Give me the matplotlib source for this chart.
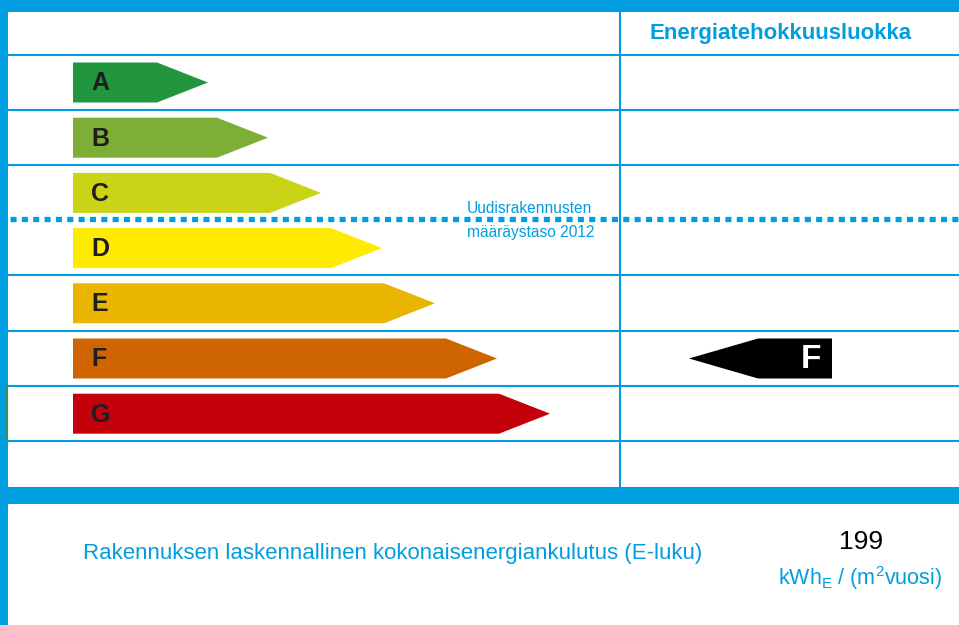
import matplotlib
matplotlib.use("Agg")
import matplotlib.pyplot as plt
from matplotlib.patches import Polygon, Rectangle

plt.rcParams['font.family'] = ['Liberation Sans', 'DejaVu Sans']

# energy classes and arrow lengths (tip position on the 959 px wide sheet)
classes = ['A', 'B', 'C', 'D', 'E', 'F', 'G']
class_colors = ['#22963f', '#7daf36', '#cbd317', '#feeb00', '#e9b500', '#ce6500', '#c4000b']
arrow_tips = [208, 268, 321, 382, 435, 497, 550]

rating = 'F'
e_value = 199
limit_after = 'C'   # Uudisrakennusten määräystaso 2012 line sits under this class

header = 'Energiatehokkuusluokka'
limit_text = ['Uudisrakennusten', 'määräystaso 2012']
bottom_label = 'Rakennuksen laskennallinen kokonaisenergiankulutus (E-luku)'
unit_label = r'kWh$_\mathregular{E}$ / (m$^\mathregular{2}$vuosi)'

blue = '#009ee0'
W, H = 959, 625

fig = plt.figure(figsize=(W / 100, H / 100), dpi=100)
ax = fig.add_axes([0, 0, 1, 1])
ax.set_xlim(0, W)
ax.set_ylim(H, 0)
ax.axis('off')

# frame
ax.add_patch(Rectangle((0, 0), W, 12, color=blue, lw=0))
ax.add_patch(Rectangle((0, 0), 8, H, color=blue, lw=0))
ax.add_patch(Rectangle((0, 487), W, 17, color=blue, lw=0))

# table grid
row_top = 54.5
row_h = 55.2
n_rows = len(classes) + 1
limit_idx = classes.index(limit_after) + 1
for i in range(n_rows):
    y = row_top + i * row_h
    if i == limit_idx:
        continue
    ax.plot([8, W], [y, y], color=blue, lw=1.5, solid_capstyle='butt')
ax.plot([620, 620], [12, 487], color=blue, lw=1.5, solid_capstyle='butt')

# dotted limit line
y_lim = row_top + limit_idx * row_h - 1
ax.plot([10, W], [y_lim, y_lim], color=blue, lw=3.8,
        linestyle=(0, (1.15, 1.0)), dash_capstyle='butt')
ax.text(467, y_lim - 11, limit_text[0], color=blue, fontsize=11.2, ha='left', va='center')
ax.text(467, y_lim + 13, limit_text[1], color=blue, fontsize=11.2, ha='left', va='center')

# class arrows
ah = 40
for i, (c, col, tip) in enumerate(zip(classes, class_colors, arrow_tips)):
    top = row_top + i * row_h + 8
    body = tip - 51
    pts = [(73, top), (body, top), (tip, top + ah / 2), (body, top + ah), (73, top + ah)]
    ax.add_patch(Polygon(pts, closed=True, color=col, lw=0))
    ax.text(91, top + ah / 2 + 1, c, fontsize=18, fontweight='bold', color='#1e1e1e',
            ha='left', va='center')

# small green edge mark next to the last row
g_top = row_top + (len(classes) - 1) * row_h
ax.plot([7, 7], [g_top + 1, g_top + row_h], color='#3a8f5a', lw=1.5)

# header
ax.text(781, 34, header, fontsize=16, fontweight='bold', color=blue, ha='center', va='center')

# rating arrow
ri = classes.index(rating)
top = row_top + ri * row_h + 8
pts = [(689, top + ah / 2), (758, top), (832, top), (832, top + ah), (758, top + ah)]
ax.add_patch(Polygon(pts, closed=True, color='black', lw=0))
ax.text(811, top + ah / 2 + 1, rating, fontsize=24, fontweight='bold', color='white',
        ha='center', va='center')

# bottom info
ax.text(83, 553, bottom_label, fontsize=16, color=blue, ha='left', va='center')
ax.text(861, 542, str(e_value), fontsize=19, color='black', ha='center', va='center')
ax.text(860, 578, unit_label, fontsize=15.5, color=blue, ha='center', va='center')

fig.savefig('out.png', dpi=100)
